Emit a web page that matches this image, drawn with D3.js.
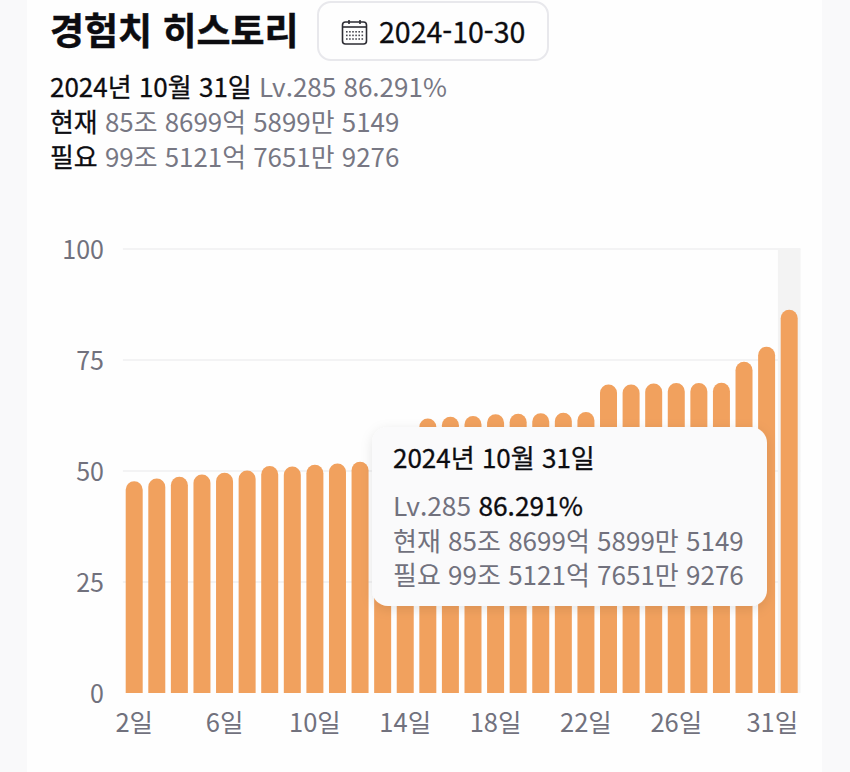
<!DOCTYPE html>
<html lang="ko">
<head>
<meta charset="utf-8">
<script src="https://cdn.jsdelivr.net/npm/d3@7"></script>
<style>
  html, body { margin: 0; padding: 0; background: #f9f9fa; }
  text { font-family: "Noto Sans CJK KR", "Noto Sans", sans-serif; }
</style>
</head>
<body>
<script>
// day of month (days 13-14 are hidden by the tooltip)
const days = [2, 3, 4, 5, 6, 7, 8, 9, 10, 11, 12, 13, 14, 15, 16, 17, 18, 19, 20, 21, 22, 23, 24, 25, 26, 27, 28, 29, 30, 31];
const values = [47.7, 48.3, 48.7, 49.2, 49.6, 50.1, 51.1, 51.0, 51.4, 51.7, 52.1, 52.6, 53.0, 61.8, 62.2, 62.4, 62.8, 62.9, 63.0, 63.1, 63.3, 69.5, 69.5, 69.7, 69.8, 69.8, 69.9, 74.6, 78.0, 86.291];
const yTicks = [0, 25, 50, 75, 100];
const xTicks = [2, 6, 10, 14, 18, 22, 26, 31];
const title = "경험치 히스토리";
const pickedDate = "2024-10-30";
const dateLabel = "2024년 10월 31일";
const level = "Lv.285";
const percent = "86.291%";
const current = "85조 8699억 5899만 5149";
const required = "99조 5121억 7651만 9276";

const width = 850, height = 772;
const margin = { top: 249, right: 49.5, bottom: 79, left: 122.9 };
const ink = "#0c0c10", grey = "#777783", axisGrey = "#71717d";

const svg = d3.select("body").append("svg")
    .attr("width", width)
    .attr("height", height)
    .style("display", "block");

svg.append("rect").attr("x", 27).attr("width", 795).attr("height", height).attr("fill", "#fefefe");

const x = d3.scaleBand()
    .domain(days)
    .range([margin.left, width - margin.right])
    .paddingInner(0.2475)
    .paddingOuter(0.124);

const y = d3.scaleLinear()
    .domain([0, 100])
    .range([height - margin.bottom, margin.top]);

// grid
svg.append("g").selectAll("line")
    .data(yTicks.filter(d => d > 0))
    .enter().append("line")
    .attr("x1", margin.left)
    .attr("x2", width - margin.right)
    .attr("y1", d => y(d))
    .attr("y2", d => y(d))
    .attr("stroke", "#f3f3f4")
    .attr("stroke-width", 2);

// hover band on the selected day
svg.append("rect")
    .attr("x", x(31) - x.step() * x.paddingInner() / 2)
    .attr("y", y(100))
    .attr("width", x.step())
    .attr("height", y(0) - y(100))
    .attr("fill", "#f3f3f3");

// bars with a fully rounded top
function barPath(d, i) {
    const left = x(days[i]), w = x.bandwidth(), r = w / 2, top = y(d), base = y(0);
    const p = d3.path();
    p.moveTo(left, base);
    p.lineTo(left, top + r);
    p.arc(left + r, top + r, r, Math.PI, 0);
    p.lineTo(left + w, base);
    p.closePath();
    return p.toString();
}

svg.append("g").selectAll("path")
    .data(values)
    .enter().append("path")
    .attr("d", barPath)
    .attr("fill", "#f1a15e");

// axes
const yAxis = svg.append("g")
    .attr("transform", `translate(${margin.left - 19},0)`)
    .call(d3.axisLeft(y).tickValues(yTicks).tickSize(0).tickPadding(0));
yAxis.select(".domain").remove();
yAxis.selectAll("text")
    .style("font-size", "25px")
    .attr("fill", axisGrey)
    .attr("dy", "0.38em");

const xAxis = svg.append("g")
    .attr("transform", `translate(0,${y(0)})`)
    .call(d3.axisBottom(x).tickValues(xTicks).tickSize(0).tickPadding(0).tickFormat(d => d + "일"));
xAxis.select(".domain").remove();
xAxis.selectAll("text")
    .style("font-size", "25.5px")
    .attr("fill", axisGrey)
    .attr("y", 39)
    .attr("dy", 0);
// last label is pushed in so it stays inside the plot
xAxis.selectAll("text").filter(d => d === 31)
    .attr("text-anchor", "end")
    .attr("x", x.bandwidth() / 2 + 0.5);

// header
svg.append("text").attr("x", 50).attr("y", 45)
    .attr("fill", ink).attr("stroke", ink).attr("stroke-width", 0.5)
    .style("font-size", "37px").style("font-weight", 700).text(title);

svg.append("rect")
    .attr("x", 318).attr("y", 2).attr("width", 230).attr("height", 58).attr("rx", 13)
    .attr("fill", "#fefefe").attr("stroke", "#e8e8ec").attr("stroke-width", 2);

const cal = svg.append("g").attr("transform", "translate(342,20)")
    .attr("fill", "none").attr("stroke", "#2c2c33");
cal.append("rect").attr("x", 0.5).attr("y", 2).attr("width", 24).attr("height", 22).attr("rx", 3).attr("stroke-width", 1.6);
cal.append("line").attr("x1", 0.5).attr("x2", 24.5).attr("y1", 7).attr("y2", 7).attr("stroke-width", 1.6);
cal.append("line").attr("x1", 7).attr("x2", 7).attr("y1", 0).attr("y2", 4).attr("stroke-width", 1.6);
cal.append("line").attr("x1", 18).attr("x2", 18).attr("y1", 0).attr("y2", 4).attr("stroke-width", 1.6);
d3.range(3).forEach(r => d3.range(6).forEach(c => {
    cal.append("rect").attr("x", 4 + c * 3.1).attr("y", 11 + r * 3.6)
        .attr("width", 1.6).attr("height", 1.6).attr("fill", "#4a4a52").attr("stroke", "none");
}));

svg.append("text").attr("x", 379).attr("y", 43)
    .attr("fill", ink).attr("stroke", ink).attr("stroke-width", 0.3)
    .style("font-size", "28.5px").text(pickedDate);

// dark parts get a hairline stroke, the font has no medium weight here
function line(parent, px, py, size, parts) {
    const t = parent.append("text").attr("x", px).attr("y", py).style("font-size", size + "px");
    parts.forEach(p => t.append("tspan").attr("fill", p[1])
        .attr("stroke", p[1] === ink ? ink : "none").attr("stroke-width", 0.3).text(p[0]));
    return t;
}

line(svg, 50, 97, 26, [[dateLabel + " ", ink], [level + " " + percent, grey]]);
line(svg, 50, 132, 25.9, [["현재 ", ink], [current, grey]]);
line(svg, 50, 167, 25.9, [["필요 ", ink], [required, grey]]);

// tooltip
const defs = svg.append("defs");
defs.append("filter").attr("id", "tipShadow")
    .attr("x", "-10%").attr("y", "-15%").attr("width", "120%").attr("height", "130%")
    .append("feDropShadow")
    .attr("dx", 0).attr("dy", 3).attr("stdDeviation", 6)
    .attr("flood-color", "#000").attr("flood-opacity", 0.1);

svg.append("rect")
    .attr("x", 372).attr("y", 427).attr("width", 395).attr("height", 179).attr("rx", 16)
    .attr("fill", "#fafafb").attr("filter", "url(#tipShadow)");

line(svg, 393, 468, 26, [[dateLabel, ink]]);
line(svg, 393, 516, 26.3, [[level + " ", axisGrey], [percent, ink]]);
line(svg, 393, 551, 26, [["현재 " + current, axisGrey]]);
line(svg, 393, 585, 26, [["필요 " + required, axisGrey]]);
</script>
</body>
</html>
